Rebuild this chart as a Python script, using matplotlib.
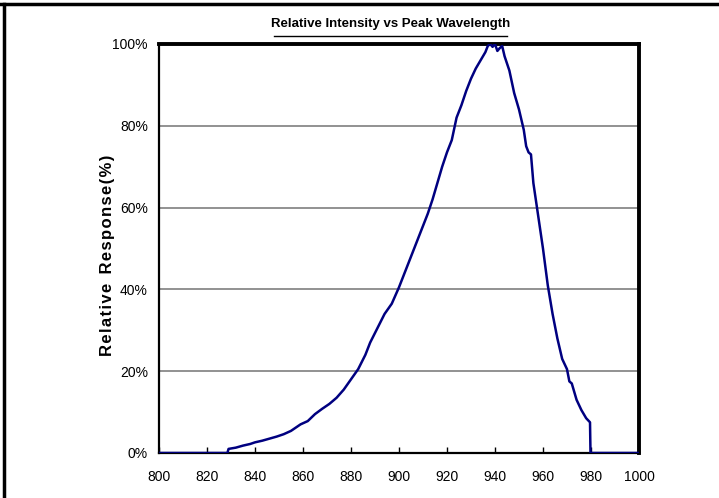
# Relative intensity vs peak wavelength
import numpy as np
import matplotlib.pyplot as plt
from matplotlib.lines import Line2D

# DATA
wavelength = [800, 828.5, 829, 832, 835, 838, 840, 843, 846, 849, 852, 855, 857, 859,
              862, 865, 868, 871, 874, 877, 880, 883, 886, 888, 891, 894, 897, 900,
              903, 906, 909, 912, 914, 916, 918, 920, 922, 924, 926, 928, 930, 932,
              934, 936, 937, 938, 939, 940, 941, 942, 943, 944, 946, 948, 950, 952,
              953, 954, 955, 956, 958, 960, 962, 964, 966, 968, 970, 971, 972, 974,
              976, 978, 979.6, 979.8, 1000]
response = [0, 0, 1.0, 1.3, 1.8, 2.2, 2.6, 3.0, 3.5, 4.0, 4.6, 5.4, 6.2, 7.0,
            7.8, 9.5, 10.8, 12.0, 13.5, 15.5, 18.0, 20.5, 24.0, 27.0, 30.5, 34.0, 36.5, 40.5,
            45.0, 49.5, 54.0, 58.5, 62.0, 66.0, 70.0, 73.5, 76.5, 82.0, 85.0, 88.5, 91.5, 94.0,
            96.0, 98.0, 99.5, 100.0, 99.3, 100.0, 98.3, 99.0, 99.5, 97.0, 93.5, 88.0, 84.0, 79.0,
            75.0, 73.5, 73.0, 66.0, 58.0, 50.0, 41.0, 34.0, 28.0, 23.0, 20.5, 17.5, 17.0, 13.0,
            10.5, 8.5, 7.5, 0, 0]
xticks = [800, 820, 840, 860, 880, 900, 920, 940, 960, 980, 1000]
yticks = [0, 20, 40, 60, 80, 100]
ytick_labels = ["0%", "20%", "40%", "60%", "80%", "100%"]

plt.rcParams['font.family'] = ['Liberation Sans', 'DejaVu Sans']

fig = plt.figure(figsize=(7.19, 4.98), dpi=100)
ax = fig.add_axes([0.2211, 0.0904, 0.6676, 0.8213])

# gridlines
for v in yticks[1:-1]:
    ax.axhline(v, color='#7f7f7f', lw=1.2, zorder=1)

ax.plot(wavelength, response, color='#000080', lw=1.8, zorder=3)

ax.set_xlim(800, 1000)
ax.set_ylim(0, 100)
ax.set_xticks(xticks)
ax.set_yticks(yticks)
ax.set_yticklabels(ytick_labels)
ax.tick_params(axis='x', direction='in', length=4, width=1, pad=12, labelsize=10, colors='black')
ax.tick_params(axis='y', length=0, pad=8, labelsize=10)

for side in ['left', 'bottom']:
    ax.spines[side].set_linewidth(1.6)
for side in ['top', 'right']:
    ax.spines[side].set_linewidth(2.8)

# letter-spaced axis title (hair spaces)
ylab = "\u200a".join("Relative Response(%)").replace("\u200a \u200a", "  ")
ax.set_ylabel(ylab, fontsize=12, fontweight='bold')
ax.yaxis.set_label_coords(-0.092, 0.483)

# title with underline
fig.text(0.543, 0.952, "Relative Intensity vs Peak Wavelength", ha='center', va='center',
         fontsize=9.5, fontweight='bold')
fig.add_artist(Line2D([274 / 719, 507 / 719], [1 - 36 / 498, 1 - 36 / 498], color='black', lw=1))

# outer page border (top and left)
fig.add_artist(Line2D([0, 1], [1 - 4 / 498, 1 - 4 / 498], color='black', lw=2.5))
fig.add_artist(Line2D([4 / 719, 4 / 719], [0, 1 - 4 / 498], color='black', lw=2.5))

fig.savefig("out.png", dpi=100)
